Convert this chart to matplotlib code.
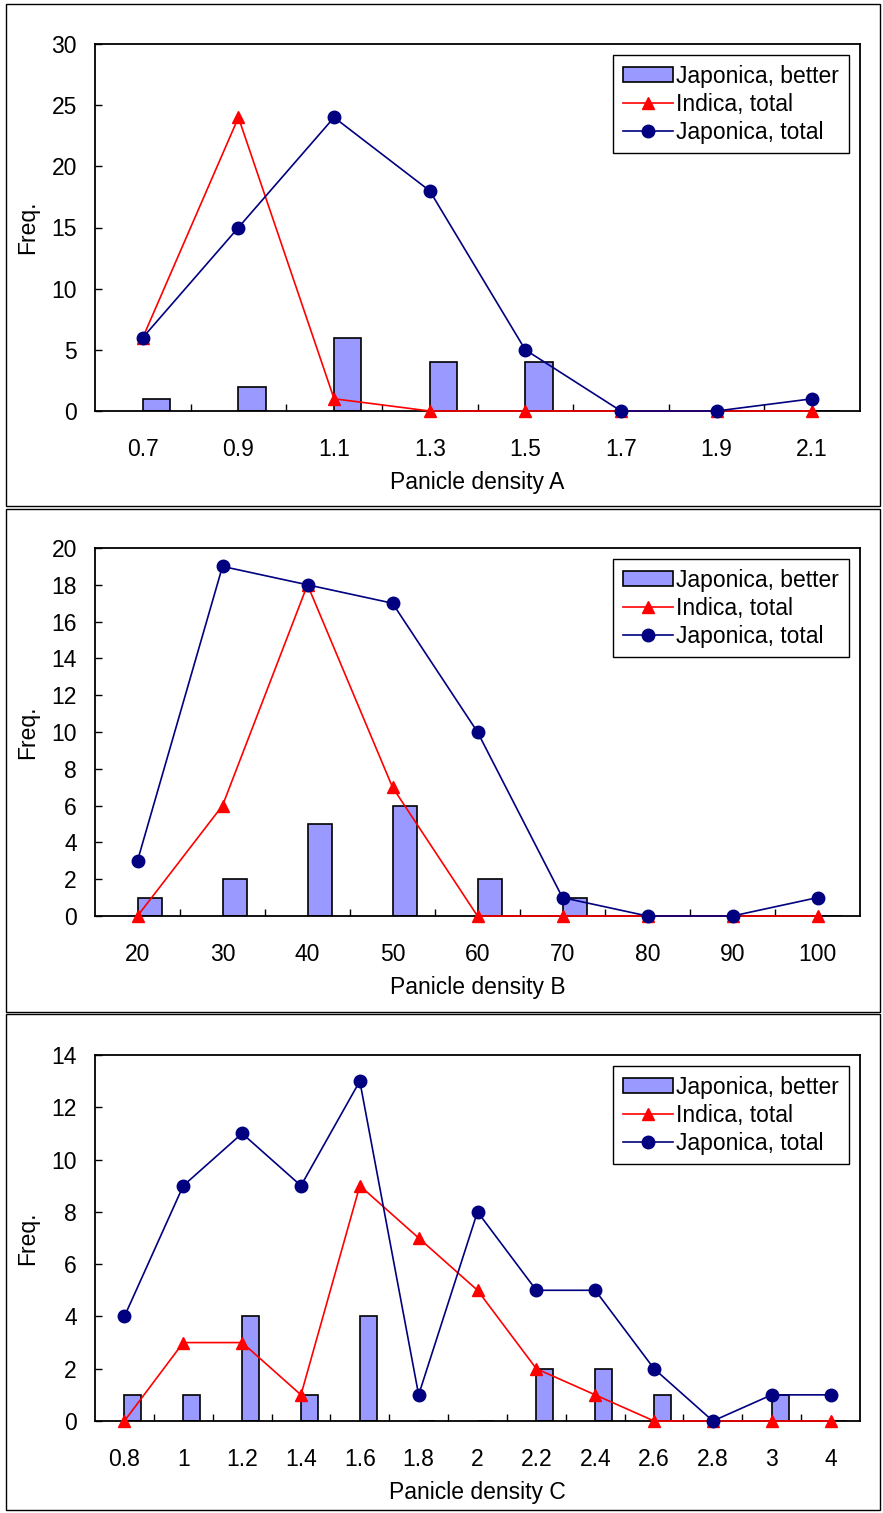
import numpy as np
import matplotlib
matplotlib.use('Agg')
import matplotlib.pyplot as plt
from matplotlib.patches import Rectangle, Patch
from matplotlib.lines import Line2D

plt.rcParams['font.family'] = ['Liberation Sans', 'DejaVu Sans']

# panel A
cats_a = ['0.7', '0.9', '1.1', '1.3', '1.5', '1.7', '1.9', '2.1']
better_a = [1, 2, 6, 4, 4, 0, 0, 0]
indica_a = [6, 24, 1, 0, 0, 0, 0, 0]
japonica_a = [6, 15, 24, 18, 5, 0, 0, 1]

# panel B
cats_b = ['20', '30', '40', '50', '60', '70', '80', '90', '100']
better_b = [1, 2, 5, 6, 2, 1, 0, 0, 0]
indica_b = [0, 6, 18, 7, 0, 0, 0, 0, 0]
japonica_b = [3, 19, 18, 17, 10, 1, 0, 0, 1]

# panel C
cats_c = ['0.8', '1', '1.2', '1.4', '1.6', '1.8', '2', '2.2', '2.4', '2.6', '2.8', '3', '4']
better_c = [1, 1, 4, 1, 4, 0, 0, 2, 2, 1, 0, 1, 0]
indica_c = [0, 3, 3, 1, 9, 7, 5, 2, 1, 0, 0, 0, 0]
japonica_c = [4, 9, 11, 9, 13, 1, 8, 5, 5, 2, 0, 1, 1]

panels = [
    (cats_a, better_a, indica_a, japonica_a, 'Panicle density A', 30, 5),
    (cats_b, better_b, indica_b, japonica_b, 'Panicle density B', 20, 2),
    (cats_c, better_c, indica_c, japonica_c, 'Panicle density C', 14, 2),
]

W, H = 883, 1513
fig = plt.figure(figsize=(W / 100, H / 100), dpi=100)

# axes boxes in pixels: top, bottom
ax_px = [(44, 411), (548, 916), (1055, 1421)]
# panel frames in pixels: top, bottom
frame_px = [(4, 506), (509, 1012), (1014, 1510)]

fs = 16.5
bar_col = '#9999FF'
red = '#FF0000'
navy = '#000080'

for (top, bot) in frame_px:
    fig.patches.append(Rectangle((6 / W, 1 - bot / H), (880 - 6) / W, (bot - top) / H,
                                 transform=fig.transFigure, fill=False,
                                 edgecolor='black', linewidth=1.0))

for (cats, better, indica, japonica, xlab, ymax, ystep), (top, bot) in zip(panels, ax_px):
    ax = fig.add_axes([95 / W, 1 - bot / H, 765 / W, (bot - top) / H])
    x = np.arange(len(cats))
    ax.bar(x, better, width=1 / 3.5, align='edge', color=bar_col,
           edgecolor='black', linewidth=1.2, zorder=2)
    ax.plot(x, indica, color=red, linewidth=1.2, marker='^', markersize=9,
            zorder=4, clip_on=False)
    ax.plot(x, japonica, color=navy, linewidth=1.2, marker='o', markersize=9,
            zorder=5, clip_on=False)

    ax.set_xlim(-0.5, len(cats) - 0.5)
    ax.set_ylim(0, ymax)
    ax.set_yticks(np.arange(0, ymax + 1, ystep))
    ax.set_xticks(x)
    ax.set_xticklabels(cats)
    ax.set_xticks(np.arange(0.5, len(cats) - 1, 1.0), minor=True)
    ax.tick_params(axis='x', which='major', length=0, pad=19.5, labelsize=fs)
    ax.tick_params(axis='x', which='minor', direction='in', length=5, width=1)
    ax.tick_params(axis='y', direction='in', length=5, width=1, pad=13, labelsize=fs)
    for s in ax.spines.values():
        s.set_linewidth(1.3)
        s.set_zorder(3)
    ax.set_xlabel(xlab, fontsize=fs, labelpad=7)
    ax.set_ylabel('Freq.', fontsize=fs)
    ax.yaxis.set_label_coords(-56 / 765, 0.5)

    handles = [Patch(facecolor=bar_col, edgecolor='black', linewidth=1.2),
               Line2D([], [], color=red, linewidth=1.2, marker='^', markersize=9),
               Line2D([], [], color=navy, linewidth=1.2, marker='o', markersize=9)]
    leg = ax.legend(handles, ['Japonica, better', 'Indica, total', 'Japonica, total'],
                    loc='upper right', fontsize=fs, fancybox=False, framealpha=1,
                    edgecolor='black', borderaxespad=0.5, labelspacing=0.22,
                    handlelength=2.2, handletextpad=0.15, borderpad=0.4,
                    handleheight=0.6)
    leg.get_frame().set_linewidth(1.0)
    leg.set_zorder(6)

fig.savefig('out.png', dpi=100)
